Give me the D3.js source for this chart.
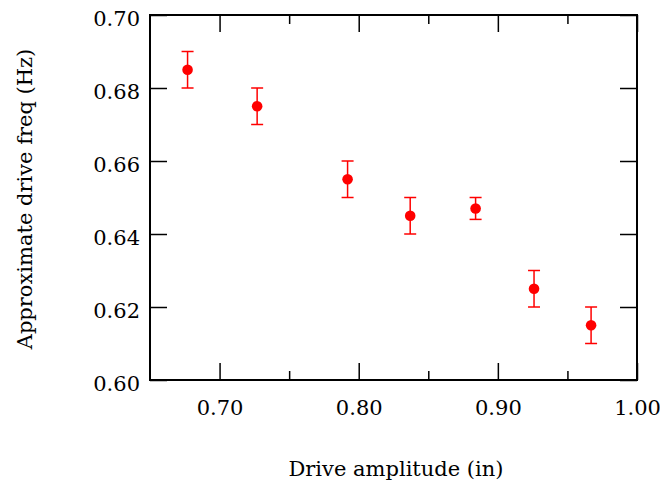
<!DOCTYPE html>
<html>
<head>
<meta charset="utf-8">
<script src="https://cdn.jsdelivr.net/npm/d3@7"></script>
<style>
  body { margin: 0; background: #fff; }
  svg text { font-family: "DejaVu Serif", serif; fill: #000; }
</style>
</head>
<body>
<div id="chart"></div>
<script>
// Data
const amplitude = [0.677, 0.727, 0.792, 0.837, 0.884, 0.926, 0.967];
const freq = [0.685, 0.675, 0.655, 0.645, 0.647, 0.625, 0.615];
const freqErr = [0.005, 0.005, 0.005, 0.005, 0.003, 0.005, 0.005];
const xTicks = [0.70, 0.80, 0.90, 1.00];
const xMinorTicks = [0.75, 0.85, 0.95];
const yTicks = [0.60, 0.62, 0.64, 0.66, 0.68, 0.70];

const W = 660, H = 485;
const margin = { top: 15, right: 23, bottom: 105, left: 150 };
const width = W - margin.left - margin.right;
const height = H - margin.top - margin.bottom;

const svg = d3.select("#chart").append("svg")
    .attr("width", W)
    .attr("height", H);

const g = svg.append("g")
    .attr("transform", `translate(${margin.left}, ${margin.top})`);

const x = d3.scaleLinear().domain([0.65, 1.00]).range([0, width]);
const y = d3.scaleLinear().domain([0.60, 0.70]).range([height, 0]);

const major = 17, minor = 9;

// Bottom axis with labels
g.append("g")
    .attr("transform", `translate(0, ${height})`)
    .call(d3.axisBottom(x).tickValues(xTicks).tickFormat(d3.format(".2f")).tickSizeInner(-major).tickSizeOuter(0).tickPadding(20))
    .call(a => a.select(".domain").remove());

g.append("g")
    .attr("transform", `translate(0, ${height})`)
    .call(d3.axisBottom(x).tickValues(xMinorTicks).tickFormat("").tickSizeInner(-minor).tickSizeOuter(0))
    .call(a => a.select(".domain").remove());

// Top ticks
g.append("g")
    .call(d3.axisTop(x).tickValues(xTicks).tickFormat("").tickSizeInner(-major).tickSizeOuter(0))
    .call(a => a.select(".domain").remove());
g.append("g")
    .call(d3.axisTop(x).tickValues(xMinorTicks).tickFormat("").tickSizeInner(-minor).tickSizeOuter(0))
    .call(a => a.select(".domain").remove());

// Left axis with labels
g.append("g")
    .call(d3.axisLeft(y).tickValues(yTicks).tickFormat(d3.format(".2f")).tickSizeInner(-major).tickSizeOuter(0).tickPadding(10))
    .call(a => a.select(".domain").remove())
    .call(a => a.selectAll("text").attr("dy", "0.5em"));

// Right ticks
g.append("g")
    .attr("transform", `translate(${width}, 0)`)
    .call(d3.axisRight(y).tickValues(yTicks).tickFormat("").tickSizeInner(-major).tickSizeOuter(0))
    .call(a => a.select(".domain").remove());

g.selectAll(".tick line").attr("stroke", "#000").attr("stroke-width", 1.5);
g.selectAll(".tick text").style("font-size", "21px").attr("fill", "#000");

// Frame
g.append("rect")
    .attr("x", 0).attr("y", 0)
    .attr("width", width).attr("height", height)
    .attr("fill", "none")
    .attr("stroke", "#000")
    .attr("stroke-width", 2);

// Error bars
const pts = amplitude.map((a, i) => ({ a: a, f: freq[i], e: freqErr[i] }));
const eb = g.append("g").attr("stroke", "#ff0000").attr("stroke-width", 1.5);
eb.selectAll(".ev").data(pts).join("line")
    .attr("x1", d => x(d.a)).attr("x2", d => x(d.a))
    .attr("y1", d => y(d.f - d.e)).attr("y2", d => y(d.f + d.e));
eb.selectAll(".cap-top").data(pts).join("line").attr("class", "cap-top")
    .attr("x1", d => x(d.a) - 6).attr("x2", d => x(d.a) + 6)
    .attr("y1", d => y(d.f + d.e)).attr("y2", d => y(d.f + d.e));
eb.selectAll(".cap-bot").data(pts).join("line").attr("class", "cap-bot")
    .attr("x1", d => x(d.a) - 6).attr("x2", d => x(d.a) + 6)
    .attr("y1", d => y(d.f - d.e)).attr("y2", d => y(d.f - d.e));

// Points
g.selectAll(".dot").data(pts).join("circle")
    .attr("class", "dot")
    .attr("cx", d => x(d.a))
    .attr("cy", d => y(d.f))
    .attr("r", 5.3)
    .attr("fill", "#ff0000");

// Axis titles
svg.append("text")
    .attr("x", 396)
    .attr("y", 476)
    .attr("text-anchor", "middle")
    .style("font-size", "21px")
    .text("Drive amplitude (in)");

svg.append("text")
    .attr("transform", "translate(32, 199) rotate(-90)")
    .attr("text-anchor", "middle")
    .style("font-size", "21px")
    .text("Approximate drive freq (Hz)");
</script>
</body>
</html>
